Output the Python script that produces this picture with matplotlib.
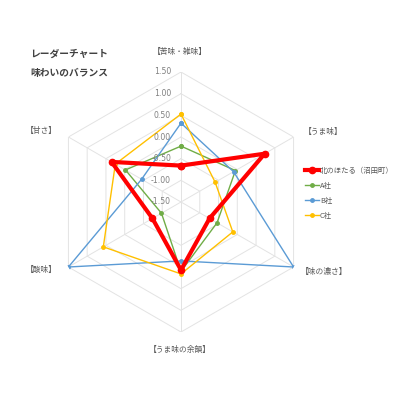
import numpy as np
import matplotlib
matplotlib.use("Agg")
import matplotlib.pyplot as plt
from matplotlib.transforms import offset_copy

plt.rcParams['font.family'] = ['Noto Sans CJK JP', 'DejaVu Sans']

categories = ['【苦味・雑味】', '【うま味】', '【味の濃さ】', '【うま味の余韻】', '【酸味】', '【甘さ】']
series_names = ['北のほたる（沼田町）', 'A社', 'B社', 'C社']
kita = [-0.66, 0.73, -0.74, 0.07, -0.74, 0.35]
a_sha = [-0.21, -0.05, -0.54, 0.10, -0.98, -0.02]
b_sha = [0.32, -0.10, 1.50, -0.14, 1.50, -0.45]
c_sha = [0.53, -0.59, -0.12, 0.16, 0.57, 0.25]
r_ticks = [-1.5, -1.0, -0.5, 0.0, 0.5, 1.0, 1.5]
r_tick_labels = ['-1.50', '-1.00', '-0.50', '0.00', '0.50', '1.00', '1.50']

colors = ['#ff0000', '#70ad47', '#5b9bd5', '#ffc000']
series = [kita, a_sha, b_sha, c_sha]

fig = plt.figure(figsize=(4, 4), dpi=100)
W = 400.0
cx, cy, R = 181, 202, 130
ax = fig.add_axes([(cx - R) / W, (W - cy - R) / W, 2 * R / W, 2 * R / W], projection='polar')
ax.set_theta_offset(np.pi / 2)
ax.set_theta_direction(-1)
ax.set_ylim(-1.5, 1.5)
ax.grid(False)
ax.spines['polar'].set_visible(False)
ax.set_xticks([])
ax.set_yticks([])
ax.patch.set_alpha(0)

n = len(categories)
theta = np.arange(n) * 2 * np.pi / n
theta_c = np.append(theta, theta[0])

grid_col = '#e3e3e3'
for lv in r_ticks[1:]:
    ax.plot(theta_c, [lv] * (n + 1), color=grid_col, lw=0.7, zorder=1)
for t in theta:
    ax.plot([t, t], [-1.5, 1.5], color=grid_col, lw=0.7, zorder=1)

for i, (name, vals, col) in enumerate(zip(series_names, series, colors)):
    v = np.append(vals, vals[0])
    if i == 0:
        ax.plot(theta_c, v, color=col, lw=3.0, marker='o', ms=4.5, zorder=5, label=name)
    else:
        ax.plot(theta_c, v, color=col, lw=1.0, marker='o', ms=2.5, zorder=3, label=name)

tr = offset_copy(ax.transData, fig=fig, x=-10, y=0, units='dots')
for v, lab in zip(r_ticks, r_tick_labels):
    ax.text(0, v, lab, transform=tr, ha='right', va='center', fontsize=5.6,
            color='#7f7f7f', family=['DejaVu Sans'], zorder=6)

label_pos = [(180, 52, 'center'), (304, 132, 'left'), (301, 272, 'left'),
             (180, 350, 'center'), (57, 270, 'right'), (57, 131, 'right')]
for (x, y, ha), lab in zip(label_pos, categories):
    fig.text(x / W, 1 - y / W, lab, ha=ha, va='center', fontsize=5.6, color='#595959')

fig.text(30 / W, 1 - 54 / W, 'レーダーチャート', ha='left', va='center', fontsize=7,
         color='#404040', fontweight='bold')
fig.text(30 / W, 1 - 73 / W, '味わいのバランス', ha='left', va='center', fontsize=7,
         color='#404040', fontweight='bold')

leg = fig.legend(loc='upper left', bbox_to_anchor=(305 / W, 1 - 167 / W), frameon=False,
                 fontsize=5.3, handlelength=1.9, handletextpad=0.15, labelspacing=0.93,
                 borderpad=0, borderaxespad=0)
for t in leg.get_texts():
    t.set_color('#595959')

fig.savefig('out.png', dpi=100, facecolor='white')
